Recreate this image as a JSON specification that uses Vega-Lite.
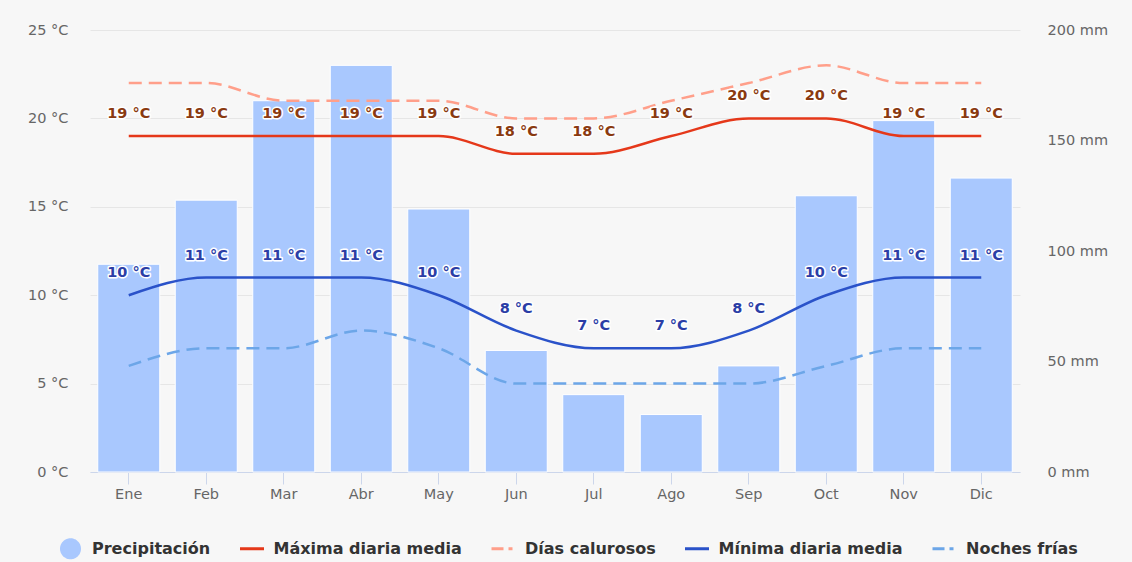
{
  "$schema": "https://vega.github.io/schema/vega-lite/v6.json",
  "width": 930,
  "height": 442,
  "autosize": {"type": "none"},
  "padding": {"left": 90, "top": 30, "right": 112, "bottom": 90},
  "background": "#f7f7f7",
  "config": {
    "view": {"stroke": null},
    "font": "DejaVu Sans",
    "axis": {"labelFont": "DejaVu Sans", "labelFontSize": 14.5, "labelColor": "#666666", "title": null},
    "legend": {
      "title": null,
      "orient": "none",
      "direction": "horizontal",
      "legendX": -33,
      "legendY": 505,
      "padding": 0,
      "columnPadding": 22.5,
      "labelOffset": 8,
      "labelLimit": 0,
      "labelFont": "DejaVu Sans",
      "labelFontSize": 16,
      "labelFontWeight": "bold",
      "labelColor": "#333333",
      "symbolSize": 576,
      "symbolStrokeWidth": 3
    }
  },
  "datasets": {
    "precip": [
      {"mes": "Ene", "serie": "Precipitación", "mm": 94},
      {"mes": "Feb", "serie": "Precipitación", "mm": 123},
      {"mes": "Mar", "serie": "Precipitación", "mm": 168},
      {"mes": "Abr", "serie": "Precipitación", "mm": 184},
      {"mes": "May", "serie": "Precipitación", "mm": 119},
      {"mes": "Jun", "serie": "Precipitación", "mm": 55},
      {"mes": "Jul", "serie": "Precipitación", "mm": 35},
      {"mes": "Ago", "serie": "Precipitación", "mm": 26},
      {"mes": "Sep", "serie": "Precipitación", "mm": 48},
      {"mes": "Oct", "serie": "Precipitación", "mm": 125},
      {"mes": "Nov", "serie": "Precipitación", "mm": 159},
      {"mes": "Dic", "serie": "Precipitación", "mm": 133}
    ],
    "temp": [
      {"mes": "Ene", "serie": "Máxima diaria media", "t": 19},
      {"mes": "Feb", "serie": "Máxima diaria media", "t": 19},
      {"mes": "Mar", "serie": "Máxima diaria media", "t": 19},
      {"mes": "Abr", "serie": "Máxima diaria media", "t": 19},
      {"mes": "May", "serie": "Máxima diaria media", "t": 19},
      {"mes": "Jun", "serie": "Máxima diaria media", "t": 18},
      {"mes": "Jul", "serie": "Máxima diaria media", "t": 18},
      {"mes": "Ago", "serie": "Máxima diaria media", "t": 19},
      {"mes": "Sep", "serie": "Máxima diaria media", "t": 20},
      {"mes": "Oct", "serie": "Máxima diaria media", "t": 20},
      {"mes": "Nov", "serie": "Máxima diaria media", "t": 19},
      {"mes": "Dic", "serie": "Máxima diaria media", "t": 19},
      {"mes": "Ene", "serie": "Días calurosos", "t": 22},
      {"mes": "Feb", "serie": "Días calurosos", "t": 22},
      {"mes": "Mar", "serie": "Días calurosos", "t": 21},
      {"mes": "Abr", "serie": "Días calurosos", "t": 21},
      {"mes": "May", "serie": "Días calurosos", "t": 21},
      {"mes": "Jun", "serie": "Días calurosos", "t": 20},
      {"mes": "Jul", "serie": "Días calurosos", "t": 20},
      {"mes": "Ago", "serie": "Días calurosos", "t": 21},
      {"mes": "Sep", "serie": "Días calurosos", "t": 22},
      {"mes": "Oct", "serie": "Días calurosos", "t": 23},
      {"mes": "Nov", "serie": "Días calurosos", "t": 22},
      {"mes": "Dic", "serie": "Días calurosos", "t": 22},
      {"mes": "Ene", "serie": "Mínima diaria media", "t": 10},
      {"mes": "Feb", "serie": "Mínima diaria media", "t": 11},
      {"mes": "Mar", "serie": "Mínima diaria media", "t": 11},
      {"mes": "Abr", "serie": "Mínima diaria media", "t": 11},
      {"mes": "May", "serie": "Mínima diaria media", "t": 10},
      {"mes": "Jun", "serie": "Mínima diaria media", "t": 8},
      {"mes": "Jul", "serie": "Mínima diaria media", "t": 7},
      {"mes": "Ago", "serie": "Mínima diaria media", "t": 7},
      {"mes": "Sep", "serie": "Mínima diaria media", "t": 8},
      {"mes": "Oct", "serie": "Mínima diaria media", "t": 10},
      {"mes": "Nov", "serie": "Mínima diaria media", "t": 11},
      {"mes": "Dic", "serie": "Mínima diaria media", "t": 11},
      {"mes": "Ene", "serie": "Noches frías", "t": 6},
      {"mes": "Feb", "serie": "Noches frías", "t": 7},
      {"mes": "Mar", "serie": "Noches frías", "t": 7},
      {"mes": "Abr", "serie": "Noches frías", "t": 8},
      {"mes": "May", "serie": "Noches frías", "t": 7},
      {"mes": "Jun", "serie": "Noches frías", "t": 5},
      {"mes": "Jul", "serie": "Noches frías", "t": 5},
      {"mes": "Ago", "serie": "Noches frías", "t": 5},
      {"mes": "Sep", "serie": "Noches frías", "t": 5},
      {"mes": "Oct", "serie": "Noches frías", "t": 6},
      {"mes": "Nov", "serie": "Noches frías", "t": 7},
      {"mes": "Dic", "serie": "Noches frías", "t": 7}
    ]
  },
  "encoding": {
    "x": {
      "field": "mes",
      "type": "nominal",
      "sort": ["Ene", "Feb", "Mar", "Abr", "May", "Jun", "Jul", "Ago", "Sep", "Oct", "Nov", "Dic"],
      "scale": {"paddingInner": 0.2, "paddingOuter": 0.1},
      "axis": {
        "labelAngle": 0,
        "domainColor": "#ccd6eb",
        "tickColor": "#ccd6eb",
        "tickSize": 12,
        "labelPadding": 3,
        "grid": false
      }
    }
  },
  "layer": [
    {
      "data": {"name": "precip"},
      "mark": {"type": "bar", "stroke": "#ffffff", "strokeWidth": 1},
      "encoding": {
        "y": {
          "field": "mm",
          "type": "quantitative",
          "scale": {"domain": [0, 200], "nice": false},
          "axis": {
            "orient": "right",
            "values": [0, 50, 100, 150, 200],
            "labelExpr": "datum.value + ' mm'",
            "grid": false,
            "domain": false,
            "ticks": false,
            "tickSize": 0,
            "labelPadding": 27
          }
        },
        "color": {
          "field": "serie",
          "type": "nominal",
          "scale": {
            "domain": ["Precipitación", "Máxima diaria media", "Días calurosos", "Mínima diaria media", "Noches frías"],
            "range": ["#a9c8fe", "#e5381a", "#ff9f8a", "#2a52c9", "#6ca6e8"]
          },
          "legend": {
            "encode": {
              "symbols": {
                "update": {
                  "shape": {"signal": "datum.value === 'Precipitación' ? 'M0,-0.75L0,-0.75M0,0.75L0,0.75M-0.75,0A0.75,0.75,0,1,0,0.75,0A0.75,0.75,0,1,0,-0.75,0Z' : 'M0,-0.75L0,-0.75M0,0.75L0,0.75M-1,0L1,0'"},
                  "size": {"value": 576},
                  "fill": {"signal": "datum.value === 'Precipitación' ? '#a9c8fe' : 'transparent'"},
                  "stroke": {"signal": "datum.value === 'Precipitación' ? 'transparent' : (datum.value === 'Máxima diaria media' ? '#e5381a' : (datum.value === 'Días calurosos' ? '#ff9f8a' : (datum.value === 'Mínima diaria media' ? '#2a52c9' : '#6ca6e8')))"},
                  "strokeWidth": {"value": 3},
                  "strokeCap": {"value": "butt"},
                  "strokeDash": {"signal": "(datum.value === 'Días calurosos' || datum.value === 'Noches frías') ? [12, 5, 4, 20] : [1, 0]"},
                  "opacity": {"value": 1}
                }
              }
            }
          }
        }
      }
    },
    {
      "layer": [
        {
          "data": {"name": "temp"},
          "transform": [{"filter": "datum.serie === 'Máxima diaria media' || datum.serie === 'Mínima diaria media'"}],
          "mark": {"type": "line", "interpolate": "monotone", "strokeWidth": 2.5},
          "encoding": {
            "y": {
              "field": "t",
              "type": "quantitative",
              "scale": {"domain": [0, 25], "nice": false},
              "axis": {
                "orient": "left",
                "values": [0, 5, 10, 15, 20, 25],
                "labelExpr": "datum.value + ' °C'",
                "grid": true,
                "gridColor": "#e6e6e6",
                "domain": false,
                "ticks": false,
                "tickSize": 0,
                "labelPadding": 22
              }
            },
            "color": {
              "field": "serie",
              "type": "nominal",
              "legend": {
                "encode": {
                  "symbols": {
                    "update": {
                      "shape": {"signal": "datum.value === 'Precipitación' ? 'M0,-0.75L0,-0.75M0,0.75L0,0.75M-0.75,0A0.75,0.75,0,1,0,0.75,0A0.75,0.75,0,1,0,-0.75,0Z' : 'M0,-0.75L0,-0.75M0,0.75L0,0.75M-1,0L1,0'"},
                      "size": {"value": 576},
                      "fill": {"signal": "datum.value === 'Precipitación' ? '#a9c8fe' : 'transparent'"},
                      "stroke": {"signal": "datum.value === 'Precipitación' ? 'transparent' : (datum.value === 'Máxima diaria media' ? '#e5381a' : (datum.value === 'Días calurosos' ? '#ff9f8a' : (datum.value === 'Mínima diaria media' ? '#2a52c9' : '#6ca6e8')))"},
                      "strokeWidth": {"value": 3},
                      "strokeCap": {"value": "butt"},
                      "strokeDash": {"signal": "(datum.value === 'Días calurosos' || datum.value === 'Noches frías') ? [12, 5, 4, 20] : [1, 0]"},
                      "opacity": {"value": 1}
                    }
                  }
                }
              }
            }
          }
        },
        {
          "data": {"name": "temp"},
          "transform": [{"filter": "datum.serie === 'Días calurosos' || datum.serie === 'Noches frías'"}],
          "mark": {"type": "line", "interpolate": "monotone", "strokeWidth": 2.5, "strokeDash": [13, 7]},
          "encoding": {
            "y": {"field": "t", "type": "quantitative"},
            "color": {
              "field": "serie",
              "type": "nominal",
              "legend": {
                "encode": {
                  "symbols": {
                    "update": {
                      "shape": {"signal": "datum.value === 'Precipitación' ? 'M0,-0.75L0,-0.75M0,0.75L0,0.75M-0.75,0A0.75,0.75,0,1,0,0.75,0A0.75,0.75,0,1,0,-0.75,0Z' : 'M0,-0.75L0,-0.75M0,0.75L0,0.75M-1,0L1,0'"},
                      "size": {"value": 576},
                      "fill": {"signal": "datum.value === 'Precipitación' ? '#a9c8fe' : 'transparent'"},
                      "stroke": {"signal": "datum.value === 'Precipitación' ? 'transparent' : (datum.value === 'Máxima diaria media' ? '#e5381a' : (datum.value === 'Días calurosos' ? '#ff9f8a' : (datum.value === 'Mínima diaria media' ? '#2a52c9' : '#6ca6e8')))"},
                      "strokeWidth": {"value": 3},
                      "strokeCap": {"value": "butt"},
                      "strokeDash": {"signal": "(datum.value === 'Días calurosos' || datum.value === 'Noches frías') ? [12, 5, 4, 20] : [1, 0]"},
                      "opacity": {"value": 1}
                    }
                  }
                }
              }
            }
          }
        },
        {
          "data": {"name": "temp"},
          "transform": [{"filter": "datum.serie === 'Máxima diaria media' || datum.serie === 'Mínima diaria media'"}],
          "mark": {
            "type": "text",
            "font": "DejaVu Sans",
            "fontSize": 14.5,
            "fontWeight": "bold",
            "baseline": "middle",
            "align": "center",
            "dy": -22,
            "fill": "#ffffff",
            "stroke": "#ffffff",
            "strokeWidth": 3,
            "strokeJoin": "round",
            "text": {"expr": "datum.t + ' °C'"}
          },
          "encoding": {
            "y": {"field": "t", "type": "quantitative"}
          }
        },
        {
          "data": {"name": "temp"},
          "transform": [{"filter": "datum.serie === 'Máxima diaria media' || datum.serie === 'Mínima diaria media'"}],
          "mark": {
            "type": "text",
            "font": "DejaVu Sans",
            "fontSize": 14.5,
            "fontWeight": "bold",
            "baseline": "middle",
            "align": "center",
            "dy": -22,
            "fill": {"expr": "datum.serie === 'Máxima diaria media' ? '#8a3a10' : '#2b3ea6'"},
            "text": {"expr": "datum.t + ' °C'"}
          },
          "encoding": {
            "y": {"field": "t", "type": "quantitative"}
          }
        }
      ]
    }
  ],
  "resolve": {"scale": {"y": "independent"}}
}
